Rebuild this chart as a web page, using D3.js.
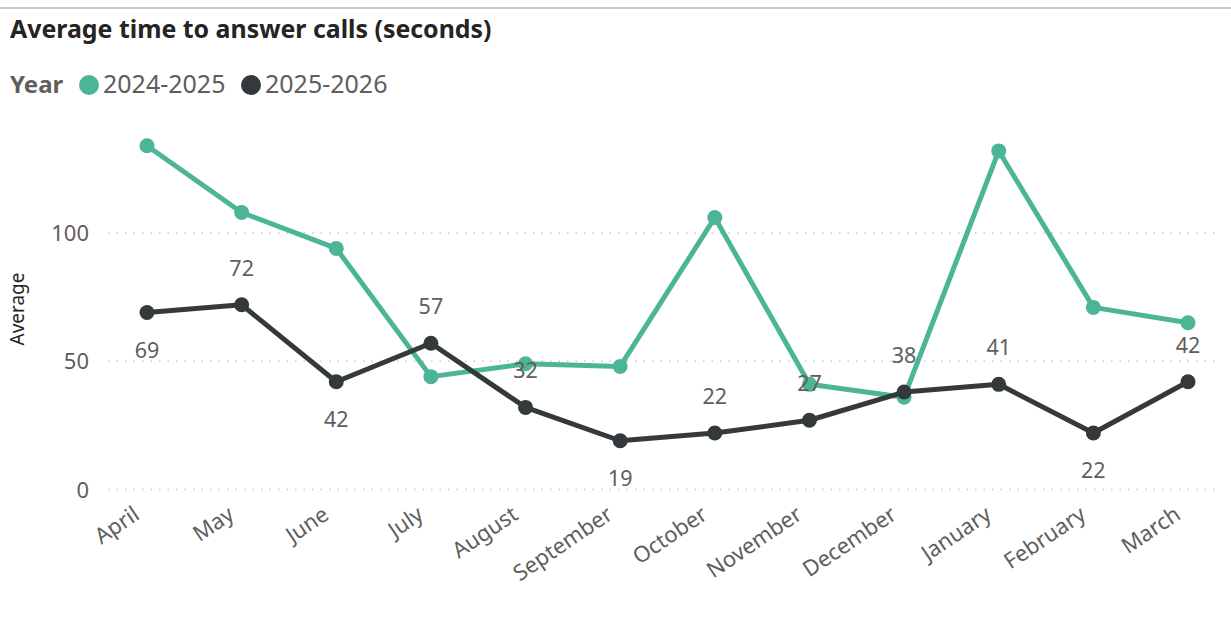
<!DOCTYPE html>
<html>
<head>
<meta charset="utf-8">
<script src="https://cdn.jsdelivr.net/npm/d3@7"></script>
<style>
  body { margin: 0; background: #fff; }
  svg { display: block; font-family: "Noto Sans", "Open Sans", sans-serif; }
</style>
</head>
<body>
<svg id="chart" width="1231" height="621"></svg>
<script>
const months = ["April", "May", "June", "July", "August", "September", "October",
    "November", "December", "January", "February", "March"];
const series2425 = [134, 108, 94, 44, 49, 48, 106, 41, 36, 132, 71, 65];
const series2526 = [69, 72, 42, 57, 32, 19, 22, 27, 38, 41, 22, 42];
// where the data label for the dark series sits: 1 = above, -1 = below
const labelSide = [-1, 1, -1, 1, 1, -1, 1, 1, 1, 1, -1, 1];
const yTicks = [0, 50, 100];
const legendItems = ["2024-2025", "2025-2026"];

const green = "#4db597";
const dark = "#343a3b";
const grey = "#605e5c";

const svg = d3.select("#chart");

// top border
svg.append("line")
    .attr("x1", 0).attr("x2", 1231)
    .attr("y1", 8).attr("y2", 8)
    .style("stroke", "#c8c8c8")
    .style("stroke-width", 2);

// title
svg.append("text")
    .attr("x", 10).attr("y", 38)
    .style("font-size", "24.9px")
    .style("font-weight", "bold")
    .style("fill", "#252423")
    .text("Average time to answer calls (seconds)");

// legend
const legend = svg.append("g").attr("transform", "translate(0,93)");
legend.append("text")
    .attr("x", 10).attr("y", 0)
    .style("font-size", "24px")
    .style("font-weight", "bold")
    .style("fill", grey)
    .text("Year");
const legendX = [89, 251];
legendItems.forEach((name, i) => {
    legend.append("circle")
        .attr("cx", legendX[i]).attr("cy", -8).attr("r", 10)
        .style("fill", i === 0 ? green : dark);
    legend.append("text")
        .attr("x", legendX[i] + 14).attr("y", 0)
        .style("font-size", "25px")
        .style("fill", grey)
        .text(name);
});

// scales
const x = d3.scalePoint()
    .domain(months)
    .range([147, 1188]);

const y = d3.scaleLinear()
    .domain([0, 100])
    .range([489.5, 233]);

// gridlines
svg.append("g")
    .selectAll("line")
    .data(yTicks)
    .join("line")
    .attr("x1", 108).attr("x2", 1220)
    .attr("y1", d => y(d)).attr("y2", d => y(d))
    .style("stroke", "#c8c8c8")
    .style("stroke-width", 1.3)
    .style("stroke-dasharray", "1.5,7");

// y tick labels
svg.append("g")
    .selectAll("text")
    .data(yTicks)
    .join("text")
    .attr("x", 89)
    .attr("y", d => y(d) + 8)
    .attr("text-anchor", "end")
    .style("font-size", "22px")
    .style("fill", grey)
    .text(d => d);

// y axis title
svg.append("text")
    .attr("transform", "translate(24,309) rotate(-90)")
    .attr("text-anchor", "middle")
    .style("font-size", "19px")
    .style("fill", "#252423")
    .text("Average");

// x labels
svg.append("g")
    .selectAll("text")
    .data(months)
    .join("text")
    .attr("transform", d => `translate(${x(d) - 6},518) rotate(-34)`)
    .attr("text-anchor", "end")
    .style("font-size", "22px")
    .style("fill", grey)
    .text(d => d);

// lines
const line = d3.line()
    .x((d, i) => x(months[i]))
    .y(d => y(d));

function drawSeries(values, color) {
    svg.append("path")
        .datum(values)
        .attr("d", line)
        .style("fill", "none")
        .style("stroke", color)
        .style("stroke-width", 5)
        .style("stroke-linejoin", "round");
    svg.append("g")
        .selectAll("circle")
        .data(values)
        .join("circle")
        .attr("cx", (d, i) => x(months[i]))
        .attr("cy", d => y(d))
        .attr("r", 7.5)
        .style("fill", color);
}

drawSeries(series2425, green);
drawSeries(series2526, dark);

// data labels for the dark series
svg.append("g")
    .selectAll("text")
    .data(series2526)
    .join("text")
    .attr("x", (d, i) => x(months[i]))
    .attr("y", (d, i) => y(d) - labelSide[i] * 37 + 8)
    .attr("text-anchor", "middle")
    .style("font-size", "21.5px")
    .style("fill", grey)
    .text(d => d);
</script>
</body>
</html>
